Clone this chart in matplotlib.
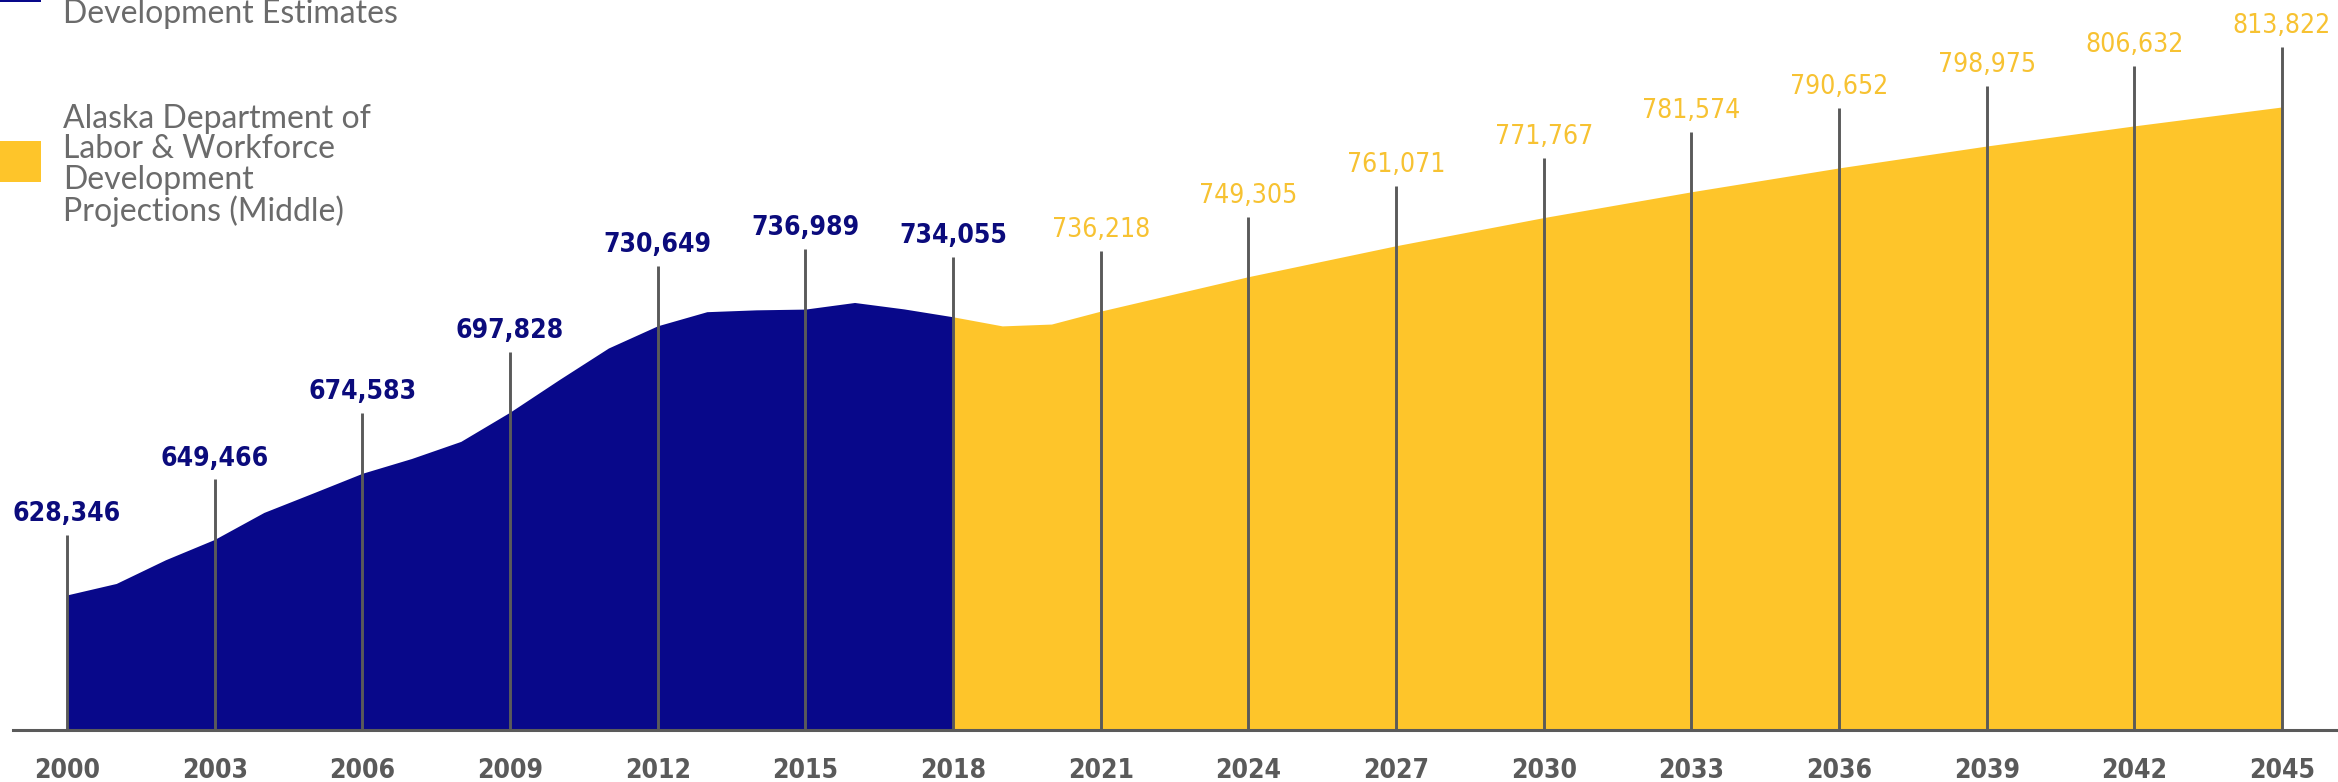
import matplotlib
matplotlib.use("Agg")
import matplotlib.pyplot as plt
from matplotlib.patches import Rectangle

# Alaska population, estimates (2000-2018) and projections (2018-2045)
est_years = [2000, 2001, 2002, 2003, 2004, 2005, 2006, 2007, 2008, 2009,
             2010, 2011, 2012, 2013, 2014, 2015, 2016, 2017, 2018]
est_values = [628346, 632700, 641700, 649466, 659700, 667100, 674583, 680200,
              686700, 697828, 710200, 722200, 730649, 736000, 736700, 736989,
              739500, 737060, 734055]

proj_years = [2018, 2019, 2020, 2021, 2024, 2027, 2030, 2033, 2036, 2039, 2042, 2045]
proj_values = [734055, 730600, 731300, 736218, 749305, 761071, 771767, 781574,
               790652, 798975, 806632, 813822]

label_years = [2000, 2003, 2006, 2009, 2012, 2015, 2018, 2021, 2024, 2027,
               2030, 2033, 2036, 2039, 2042, 2045]
label_values = [628346, 649466, 674583, 697828, 730649, 736989, 734055, 736218,
                749305, 761071, 771767, 781574, 790652, 798975, 806632, 813822]

legend_est = "Development Estimates"
legend_proj = "Alaska Department of\nLabor & Workforce\nDevelopment\nProjections (Middle)"

NAVY = "#08088a"
YELLOW = "#fec52a"
GRAY = "#5a5a5a"
NAVY_TXT = "#0b0b7c"
YELLOW_TXT = "#f7c232"
LEGEND_TXT = "#6b6b6b"

W, H, DPI = 2338, 782, 100
fig = plt.figure(figsize=(W / DPI, H / DPI), dpi=DPI)

# axes: baseline 52px above bottom, up to top of figure
base_px = 52
ax = fig.add_axes([0, base_px / H, 1, (H - base_px) / H])
px_per_year = (2282 - 67) / 45
x0 = 2000 - 67 / px_per_year
x1 = 2045 + (W - 2282) / px_per_year
ymin = 577000
per_px = 380.1
ymax = ymin + (H - base_px) * per_px
ax.set_xlim(x0, x1)
ax.set_ylim(ymin, ymax)

ax.fill_between(est_years, est_values, ymin, color=NAVY, lw=0, zorder=1)
ax.fill_between(proj_years, proj_values, ymin, color=YELLOW, lw=0, zorder=1)

# leader lines and value labels
line_off = 60 * per_px
for yr, v in zip(label_years, label_values):
    ax.plot([yr, yr], [ymin, v + line_off], color=GRAY, lw=2.1, zorder=2,
            solid_capstyle="butt")
    is_est = yr <= 2018
    ax.annotate(f"{v:,}", xy=(yr, v + line_off), xytext=(0, 15),
                textcoords="offset points", ha="center", va="center",
                fontsize=19, fontstretch="condensed",
                fontweight="bold" if is_est else "normal",
                color=NAVY_TXT if is_est else YELLOW_TXT, zorder=3)

for s in ["top", "left", "right"]:
    ax.spines[s].set_visible(False)
ax.spines["bottom"].set_color(GRAY)
ax.spines["bottom"].set_linewidth(2.2)
ax.spines["bottom"].set_bounds(x0 + 13 / px_per_year, x1)
ax.spines["bottom"].set_zorder(4)
ax.set_yticks([])
ax.set_xticks(label_years)
ax.set_xticklabels([str(y) for y in label_years], fontsize=19, fontweight="bold",
                   fontstretch="condensed", color=GRAY)
ax.tick_params(axis="x", length=0, pad=20)

# legend drawn by hand, top left
fig.patches.append(Rectangle((0, (H - 2) / H), 41 / W, 41 / H,
                             transform=fig.transFigure, color=NAVY, lw=0))
fig.text(63 / W, (H - 23) / H, legend_est, ha="left", va="baseline",
         fontsize=23, family=["Lato", "DejaVu Sans"], color=LEGEND_TXT)
fig.patches.append(Rectangle((0, (H - 182) / H), 41 / W, 41 / H,
                             transform=fig.transFigure, color=YELLOW, lw=0))
fig.text(63 / W, (H - 221) / H, legend_proj, ha="left", va="baseline",
         fontsize=23, family=["Lato", "DejaVu Sans"], color=LEGEND_TXT,
         linespacing=1.02)

fig.savefig("out.png", dpi=DPI)
